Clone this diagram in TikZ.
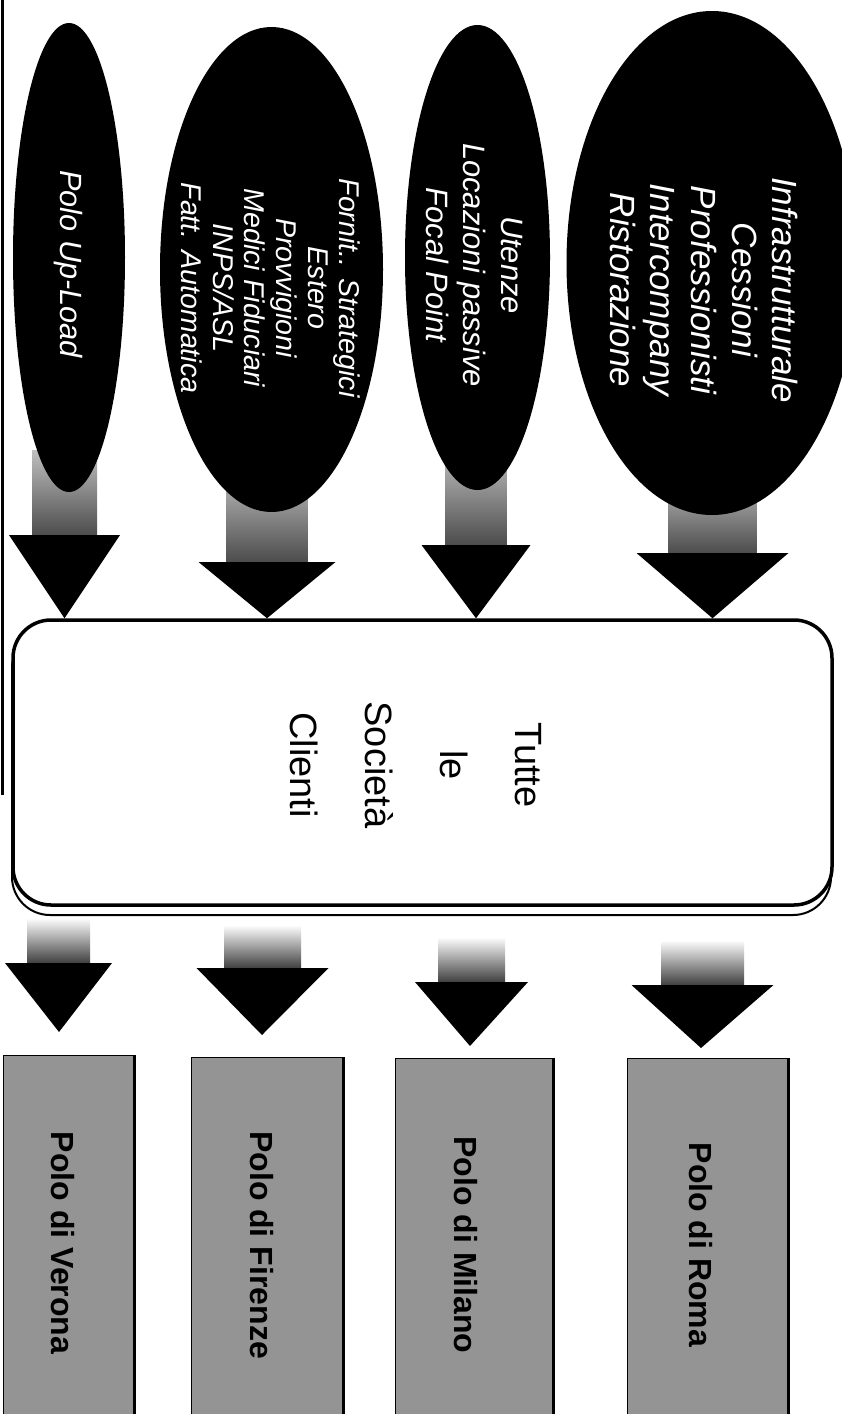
\documentclass[tikz,border=0pt]{standalone}
\usepackage{fontspec}
\setmainfont{Liberation Sans}
\usetikzlibrary{shapes.geometric}
\newcommand\upperarrow[6]{% x, stem half, stem top, head top, head half, target node
  \shade[top color=black!25, bottom color=black!70] ({#1-#2},#3) rectangle ({#1+#2},#4);
  \fill[black] ({#1-#5},#4) -- ({#1+#5},#4) -- (#1,0 |- #6) -- cycle;}
\newcommand\lowerarrow[7]{% x, stem half, stem top, head top, head half, tip x, tip y
  \shade[top color=white, bottom color=black!75] ({#1-#2},#3) rectangle ({#1+#2},#4);
  \fill[black] ({#1-#5},#4) -- ({#1+#5},#4) -- (#6,#7) -- cycle;}
\begin{document}
\begin{tikzpicture}[x=1pt,y=-1pt,
  blob/.style={ellipse, fill=black, draw=none, inner sep=0pt},
  blobtext/.style={text=white, rotate=-90, align=center, inner sep=0pt},
  polobox/.style={fill=black!42, draw=black, line width=1.2pt, inner sep=0pt, anchor=north west},
  polotext/.style={rotate=-90, inner sep=0pt, text=black, font=\fontsize{32}{38}\selectfont\bfseries},
  socbox/.style={draw=black, line width=3.5pt, fill=white, rounded corners=38pt, inner sep=0pt},
]
\useasboundingbox (0,0) rectangle (842,1414);
\fill[white] (0,0) rectangle (842,1414);

% left border line
\draw[line width=3pt] (2.5,0) -- (2.5,795);

% central rounded box with its shadow outline
\draw[line width=2pt, rounded corners=38pt] (12,630) rectangle (831,915);
\node[socbox, minimum width=819pt, minimum height=285pt] (soc) at (422.5,762.5) {};
\node[rotate=-90, align=center, inner sep=0pt, font=\fontsize{38}{75}\selectfont] (soct) at (416,765) {Tutte\\le\\Società\\Clienti};

% upper arrows (stems start under the ellipses)
\upperarrow{64.5}{32.5}{450}{535}{55.5}{soc.north}
\upperarrow{267}{40.5}{470}{562}{68.5}{soc.north}
\upperarrow{476}{30.5}{450}{545}{54.5}{soc.north}
\upperarrow{712.5}{44}{475}{553}{76}{soc.north}

% ellipses
\node[blob, minimum width=112pt, minimum height=469pt] (e1) at (69,257.5) {};
\node[blob, minimum width=223pt, minimum height=485pt] (e2) at (271.5,269.5) {};
\node[blob, minimum width=145pt, minimum height=465pt] (e3) at (477.5,257.5) {};
\node[blob, minimum width=291pt, minimum height=504pt] (e4) at (712,263) {};

\node[blobtext, font=\fontsize{30.7}{35}\selectfont\itshape] (t1) at (68,264) {Polo Up-Load};
\node[blobtext, font=\fontsize{28.6}{31.6}\selectfont\itshape] (t2) at (271,288)
  {Fornit.. Strategici\\Estero\\Provvigioni\\Medici Fiduciari\\INPS/ASL\\Fatt. Automatica};
\node[blobtext, font=\fontsize{30.9}{37.5}\selectfont\itshape] (t3) at (474,265)
  {Utenze\\Locazioni passive\\Focal Point};
\node[blobtext, font=\fontsize{35}{40.7}\selectfont\itshape] (t4) at (704,290)
  {Infrastrutturale\\Cessioni\\Professionisti\\Intercompany\\Ristorazione};

% lower arrows
\lowerarrow{58.5}{31.5}{918}{963}{53.5}{59}{1032}
\lowerarrow{262.5}{38.5}{925}{968}{66}{262}{1035}
\lowerarrow{471.5}{33.5}{937}{982}{56.5}{470}{1046}
\lowerarrow{702.5}{41.5}{940}{985}{71}{701}{1048}

% destination boxes
\node[polobox, minimum width=130pt, minimum height=365pt] (pv) at (3,1055) {};
\node[polobox, minimum width=151pt, minimum height=363pt] (pf) at (191,1057) {};
\node[polobox, minimum width=157pt, minimum height=362pt] (pm) at (395,1058) {};
\node[polobox, minimum width=160pt, minimum height=362pt] (pr) at (627,1058) {};
\foreach \b in {pv,pf,pm,pr}{\draw[line width=3pt] (\b.north east) -- (\b.south east);}

\node[polotext] (tv) at (63,1243) {Polo di Verona};
\node[polotext] (tf) at (262,1245) {Polo di Firenze};
\node[polotext] (tm) at (466,1245) {Polo di Milano};
\node[polotext] (tr) at (701,1245) {Polo di Roma};
\end{tikzpicture}
\end{document}
